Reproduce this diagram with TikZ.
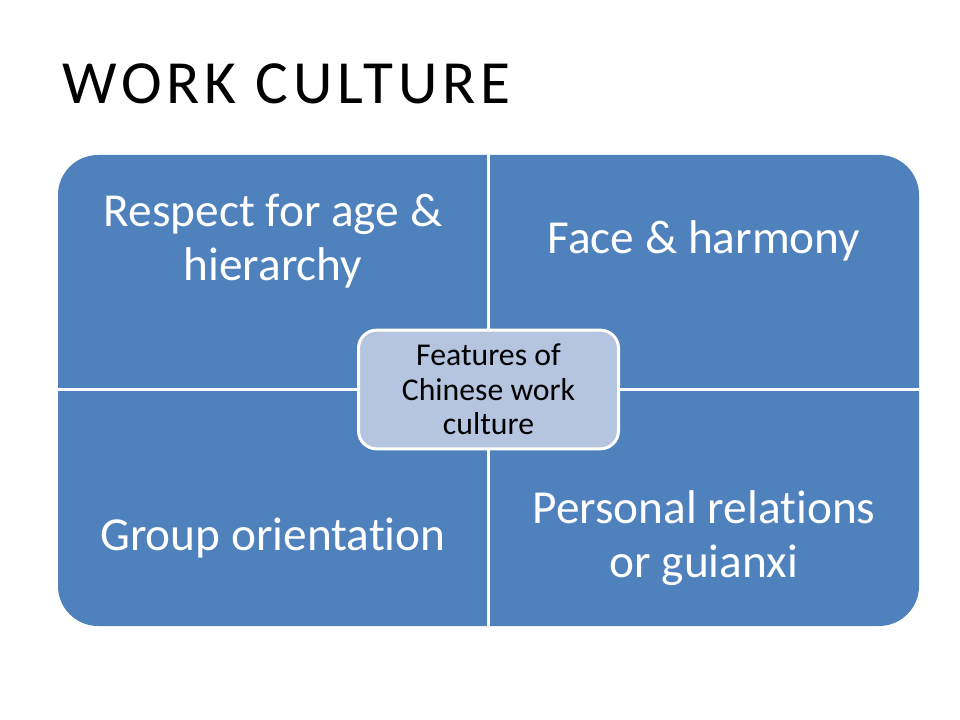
\documentclass[tikz,border=0pt]{standalone}
\usepackage{fontspec}
\setmainfont{Carlito}[RawFeature=-liga]
\definecolor{quadblue}{RGB}{79,129,189}
\definecolor{hubblue}{RGB}{181,196,223}
\begin{document}
\begin{tikzpicture}[x=0.75pt,y=-0.75pt,
  quad/.style={text=white,align=center,font=\fontsize{35.5}{41}\selectfont},
  divider/.style={white,line width=2.25pt},
  hub/.style={draw=white,line width=2.25pt,fill=hubblue,rounded corners=13.5pt,
    minimum width=195pt,minimum height=89pt,align=center,
    font=\fontsize{23.8}{26}\selectfont}]
\useasboundingbox (0,0) rectangle (960,720);
\node[anchor=base west,font=\fontsize{46}{54}\selectfont\addfontfeature{LetterSpace=8},inner sep=0pt] (title) at (62,104) {WORK CULTURE};
% matrix of four quadrants
\fill[quadblue,rounded corners=30pt] (58,155) rectangle (919,626);
\coordinate (top) at (488.5,155);
\coordinate (bottom) at (488.5,626);
\coordinate (left) at (58,389.5);
\coordinate (right) at (919,389.5);
\draw[divider] (top) -- (bottom);
\draw[divider] (left) -- (right);
\node[quad] (respect) at (273,241) {Respect for age \&\\hierarchy};
\node[quad] (face) at (704,241) {Face \& harmony};
\node[quad] (group) at (273,538) {Group orientation};
\node[quad] (personal) at (704,538) {Personal relations\\or guianxi};
\node[hub] (features) at (488.5,389.5) {Features of\\Chinese work\\culture};
\end{tikzpicture}
\end{document}
